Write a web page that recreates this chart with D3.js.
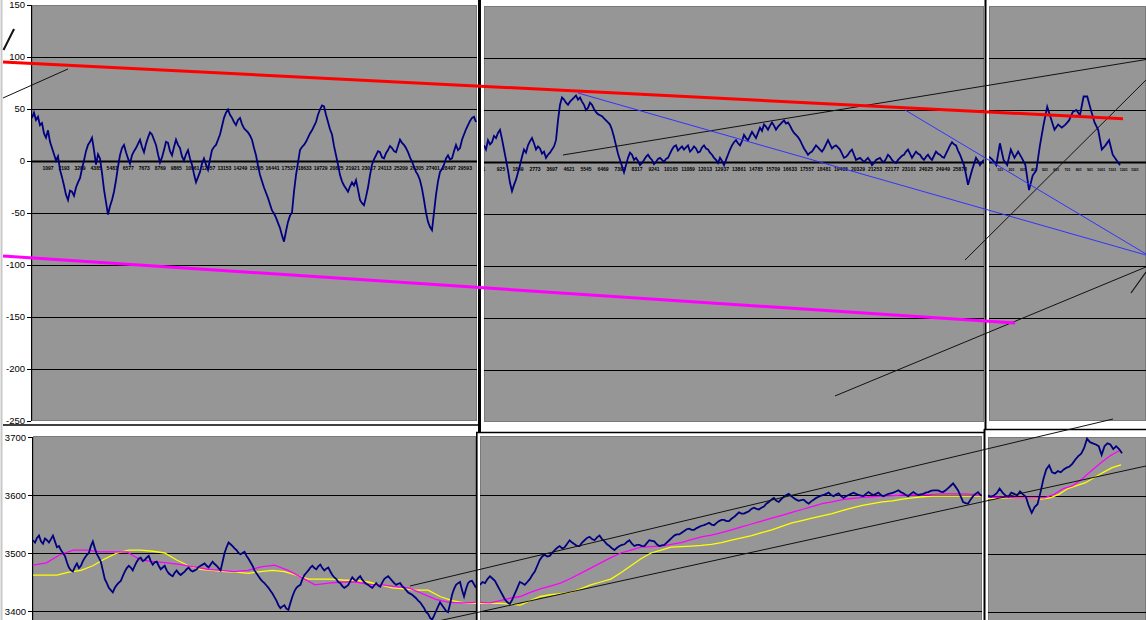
<!DOCTYPE html>
<html><head><meta charset="utf-8">
<script src="https://cdn.jsdelivr.net/npm/d3@7"></script>
<style>body{margin:0;background:#fff;}svg{display:block;}</style>
</head><body>
<svg id="c" width="1146" height="620"></svg>
<script>
// ---------------- DATA ----------------
const yTicksTop = [150, 100, 50, 0, -50, -100, -150, -200, -250];
const yTicksBottom = [3700, 3600, 3500, 3400];

const xLabelsLeft = ["1097","2193","3289","4385","5481","6577","7673","8769","9865","10961","12057","13153","14249","15345","16441","17537","18633","19729","20825","21921","23017","24113","25209","26305","27401","28497","29593"];
const xLabelsMid = ["1","925","1849","2773","3697","4621","5545","6469","7393","8317","9241","10165","11089","12013","12937","13861","14785","15709","16633","17557","18481","19405","20329","21253","22177","23101","24025","24949","25873"];
const xLabelsRight = ["1","101","201","301","401","501","601","701","801","901","1001","1101","1201","1301"];

// oscillator (top charts)
const oscLeft = [41,46,39,42,34,36,26,22,29,18,12,6,0,4,-9,-16,-24,-33,-38,-29,-30,-34,-26,-21,-17,-8,0,9,15,18,22,10,-4,6,2,-12,-28,-40,-52,-44,-38,-30,-19,-6,5,12,15,8,2,-3,5,9,12,16,20,13,8,16,22,27,25,20,15,6,-2,3,10,18,17,9,5,13,20,15,12,4,0,6,10,2,-4,-13,-21,-16,-11,-3,2,-4,-9,1,10,13,15,20,25,33,41,46,49,44,41,37,34,39,41,35,31,29,27,24,20,12,5,-5,-14,-20,-26,-31,-36,-42,-48,-51,-55,-60,-65,-72,-78,-68,-59,-53,-50,-30,-14,-2,10,13,15,18,22,26,29,33,37,44,49,53,52,44,37,30,25,14,5,-4,-14,-20,-24,-27,-30,-25,-21,-24,-19,-28,-38,-41,-43,-35,-26,-14,-4,1,5,9,8,3,2,7,10,14,12,9,8,14,20,17,15,12,8,3,-1,-6,-11,-14,-19,-27,-38,-50,-59,-64,-67,-50,-33,-20,-11,-8,-4,2,5,1,2,9,15,10,12,20,25,30,34,38,41,42,37];
const oscMid = [16,12,21,17,19,25,23,28,31,22,12,2,-8,-20,-28,-22,-17,-10,-3,5,12,9,16,20,23,18,12,15,13,8,10,4,7,9,12,15,21,40,55,62,60,57,55,58,60,62,64,60,62,58,55,50,52,57,55,51,48,46,45,44,42,40,38,36,31,24,16,8,2,-4,-10,-3,4,9,7,2,4,1,-3,-1,2,5,7,4,2,-2,0,3,4,2,0,3,4,8,12,15,16,11,13,15,12,14,16,10,12,15,13,9,10,14,16,13,12,9,7,4,2,-1,4,1,-3,2,7,12,16,19,21,18,16,20,26,23,21,25,29,26,23,28,33,30,36,34,31,35,38,35,31,34,36,38,40,37,38,35,31,28,26,24,21,17,13,10,7,9,10,13,16,14,12,10,13,17,21,17,13,15,16,14,12,8,4,5,7,10,12,7,2,3,4,2,0,2,4,1,-3,-1,2,3,4,1,0,3,7,5,2,0,-1,2,4,6,7,10,12,8,4,7,10,8,7,4,2,5,7,4,2,6,10,8,7,5,4,8,12,16,19,17,16,11,7,2,-3,-12,-22,-15,-8,-2,4,1,-3,0,2];
const oscRight = [5,2,-3,18,2,-3,12,4,10,4,-3,-27,-13,-8,16,36,53,42,31,36,33,36,40,48,50,45,63,63,50,38,31,12,16,21,7,2,-3];

// price (bottom charts)
const priceLeft = [3522,3518,3526,3530,3520,3516,3525,3522,3518,3524,3530,3520,3510,3512,3505,3500,3495,3484,3475,3470,3468,3476,3482,3474,3478,3486,3492,3497,3500,3512,3520,3508,3498,3492,3485,3470,3455,3448,3440,3436,3432,3440,3445,3449,3452,3460,3468,3474,3478,3475,3470,3478,3485,3490,3492,3486,3488,3492,3495,3486,3480,3484,3485,3478,3472,3475,3478,3470,3465,3462,3460,3466,3470,3465,3462,3465,3468,3472,3475,3470,3468,3470,3472,3476,3478,3480,3482,3478,3475,3480,3485,3481,3478,3474,3470,3485,3500,3510,3518,3515,3512,3508,3505,3500,3498,3500,3502,3495,3490,3484,3478,3470,3465,3460,3455,3451,3448,3444,3440,3435,3430,3424,3418,3410,3405,3408,3410,3404,3402,3414,3425,3434,3440,3443,3445,3455,3462,3466,3470,3475,3478,3474,3472,3477,3480,3474,3470,3473,3475,3468,3462,3458,3455,3450,3448,3443,3440,3442,3445,3452,3458,3454,3452,3457,3460,3454,3450,3447,3445,3442,3440,3444,3448,3444,3442,3449,3455,3458,3460,3456,3452,3448,3445,3447,3448,3443,3440,3436,3432,3430,3428,3425,3422,3418,3415,3410,3405,3398,3395,3388,3385,3392,3400,3408,3415,3410,3405,3400,3398,3412,3428,3438,3445,3448,3450,3436,3425,3438,3448,3451,3452,3446,3440];
const maFastLeft = [3479,3483,3497,3505,3505,3502,3502,3502,3488,3485,3483,3480,3476,3472,3470,3468,3470,3476,3479,3470,3458,3445,3448,3450,3450,3446,3445,3442,3440,3430,3420,3415,3414,3415];
const maSlowLeft = [3462,3462,3462,3467,3470,3478,3490,3500,3505,3505,3503,3500,3488,3478,3472,3470,3468,3467,3465,3468,3470,3468,3462,3455,3455,3455,3453,3453,3450,3445,3440,3438,3436,3436,3425,3418,3414,3413];

const priceMid = [3445,3450,3448,3455,3460,3456,3452,3444,3436,3428,3420,3415,3412,3420,3430,3440,3450,3448,3445,3450,3455,3462,3468,3478,3488,3494,3497,3494,3495,3500,3505,3509,3512,3508,3510,3516,3522,3518,3515,3512,3512,3518,3522,3526,3528,3524,3522,3527,3530,3524,3520,3515,3512,3508,3505,3509,3512,3514,3515,3519,3522,3516,3512,3514,3514,3512,3512,3517,3522,3521,3520,3515,3512,3513,3514,3518,3522,3526,3530,3532,3532,3535,3538,3541,3542,3540,3540,3543,3545,3547,3548,3550,3552,3549,3548,3552,3555,3557,3557,3555,3555,3559,3562,3566,3570,3568,3568,3570,3572,3576,3578,3576,3575,3578,3580,3585,3588,3592,3595,3590,3588,3593,3597,3600,3602,3598,3595,3592,3590,3591,3592,3588,3585,3589,3592,3595,3597,3599,3600,3602,3604,3600,3598,3601,3603,3598,3595,3598,3600,3602,3604,3602,3600,3599,3598,3602,3605,3602,3600,3602,3604,3600,3598,3600,3602,3603,3604,3606,3608,3605,3603,3600,3598,3602,3605,3602,3600,3601,3602,3604,3605,3607,3608,3608,3608,3606,3605,3608,3612,3616,3620,3614,3608,3598,3588,3586,3585,3592,3598,3602,3605,3600,3598];
const maFastMid = [3415,3414,3418,3422,3425,3432,3438,3443,3448,3456,3465,3474,3483,3492,3500,3505,3510,3511,3512,3515,3518,3523,3528,3531,3535,3540,3545,3550,3555,3560,3565,3570,3575,3580,3585,3588,3592,3594,3596,3597,3598,3599,3600,3600,3600,3601,3602,3602,3602,3601,3600];
const maSlowMid = [3413,3413,3413,3412,3410,3418,3425,3428,3430,3432,3438,3445,3450,3455,3466,3478,3490,3500,3505,3510,3511,3512,3513,3515,3518,3522,3526,3530,3535,3540,3546,3552,3556,3560,3564,3568,3573,3578,3582,3585,3588,3590,3593,3595,3597,3598,3598,3598,3598,3598,3598];

const priceRight = [3600,3598,3600,3604,3612,3605,3600,3598,3605,3603,3600,3607,3602,3598,3582,3570,3580,3585,3605,3628,3645,3652,3640,3638,3642,3640,3645,3648,3650,3655,3662,3668,3672,3682,3698,3692,3690,3688,3685,3670,3685,3690,3688,3680,3685,3680,3673];
const maFastRight = [3597,3597,3597,3596,3596,3596,3596,3602,3612,3617,3629,3643,3657,3669,3678];
const maSlowRight = [3595,3595,3596,3596,3596,3596,3594,3596,3602,3612,3617,3622,3631,3640,3648,3653];

// hand-drawn trend lines: [x in left-panel widths from its left edge, value]
const trendRed = [[-0.0653, 94.7], [2.4572, 40.2]];
const trendMagenta = [[-0.0653, -91.8], [2.2140, -156.3]];
const trendBlackTL = [[-0.0653, 60.1], [0.0811, 88.0]];
const strokeTL = [[-0.0642, 106.2], [-0.0405, 126.4]];
const trendBlackMid = [[1.1959, 5.3], [2.5090, 97.1]];
const trendBlueA = [[1.2297, 64.9], [2.5090, -90.9]];
const trendBlueB = [[1.9662, 48.6], [2.5090, -89.9]];
const trendBlackDiag = [[2.1014, -95.7], [2.5090, 77.4]];
const trendBlackLow = [[1.8086, -226.4], [2.5090, -102.4]];
const strokeRight = [[2.4752, -127.4], [2.5090, -107.2]];
const channelUpper = [[0.8510, 3443.1], [2.4379, 3731.0]];
const channelLower = [[0.8736, 3375.9], [2.5124, 3650.0]];

// ---------------- DRAW ----------------
const svg = d3.select("#c");
svg.append("rect").attr("width",1146).attr("height",620).attr("fill","#fff");
svg.append("line").attr("x1",1.5).attr("x2",1.5).attr("y1",0).attr("y2",620).attr("stroke","#c8c8c8").attr("stroke-width",2);

const GRAY = "#969696", BORDER = "#7a7a7a", NAVY = "#000080";
const FONT = "Liberation Sans, Arial, sans-serif";
let clipN = 0;

function drawPanel(p) {
  const g = svg.append("g");
  const id = "clip" + (clipN++);
  g.append("clipPath").attr("id", id).append("rect")
    .attr("x", p.x0).attr("y", p.y0).attr("width", p.x1 - p.x0).attr("height", p.y1 - p.y0);
  g.append("rect").attr("x", p.x0 + 0.5).attr("y", p.y0 + 0.5)
    .attr("width", p.x1 - p.x0 - 1).attr("height", p.y1 - p.y0 - 1)
    .attr("fill", GRAY).attr("stroke", BORDER).attr("stroke-width", 1);
  const y = d3.scaleLinear().domain(p.yDomain).range(p.yRange);
  const inner = g.append("g").attr("clip-path", `url(#${id})`);
  inner.selectAll("line.grid").data(p.grid).join("line")
    .attr("x1", p.x0).attr("x2", p.x1)
    .attr("y1", d => Math.round(y(d)) + 0.5).attr("y2", d => Math.round(y(d)) + 0.5)
    .attr("stroke", "#000").attr("stroke-width", 1);
  if (p.zero) {
    inner.append("line").attr("x1", p.x0).attr("x2", p.x1)
      .attr("y1", Math.round(y(0)) + 0.5).attr("y2", Math.round(y(0)) + 0.5)
      .attr("stroke", "#000").attr("stroke-width", 2);
    const xc = d3.scaleLinear().domain(p.catDomain).range([p.x0, p.x1]);
    inner.selectAll("text.cat").data(p.labels).join("text")
      .attr("x", (d) => xc(+d)).attr("y", Math.round(y(0)) + 9)
      .attr("text-anchor", "middle").attr("font-family", FONT)
      .attr("font-size", p.labelSize).attr("font-weight", "bold").attr("fill", "#000").text(d => d);
  }
  p.series.forEach(s => {
    const x = d3.scaleLinear().domain([0, s.data.length - 1]).range(s.xr);
    inner.append("path").datum(s.data)
      .attr("d", d3.line().x((d, i) => x(i)).y(d => y(d)))
      .attr("fill", "none").attr("stroke", s.color).attr("stroke-width", s.w)
      .attr("stroke-linejoin", "miter");
  });
  return y;
}

const gridTop = [100, 50, -50, -100, -150, -200];
const gridBot = [3600, 3500, 3400];

const yTL = drawPanel({x0:32, x1:477, y0:5, y1:421, yDomain:[-250,150], yRange:[420.5,4.5], grid:gridTop, zero:true,
  catDomain:[1,30415], labels:xLabelsLeft, labelSize:5,
  series:[{data:oscLeft, xr:[32,476], color:NAVY, w:1.8}]});
drawPanel({x0:484, x1:984, y0:6, y1:422, yDomain:[-250,150], yRange:[422,6], grid:gridTop, zero:true,
  catDomain:[1,27177], labels:xLabelsMid, labelSize:5,
  series:[{data:oscMid, xr:[484,984], color:NAVY, w:1.8}]});
drawPanel({x0:989, x1:1146, y0:6, y1:421, yDomain:[-250,150], yRange:[422,6], grid:gridTop, zero:true,
  catDomain:[1,1400], labels:xLabelsRight, labelSize:3.6,
  series:[{data:oscRight, xr:[989,1120], color:NAVY, w:1.8}]});

const yBL = drawPanel({x0:33, x1:476, y0:436, y1:622, yDomain:[3400,3700], yRange:[611,437], grid:gridBot, zero:false,
  series:[{data:maSlowLeft, xr:[33,476], color:"#ffff00", w:1.3},{data:maFastLeft, xr:[33,476], color:"#ff00ff", w:1.3},{data:priceLeft, xr:[33,476], color:NAVY, w:1.8}]});
drawPanel({x0:480, x1:982, y0:436, y1:622, yDomain:[3400,3700], yRange:[611,437], grid:gridBot, zero:false,
  series:[{data:maSlowMid, xr:[480,983], color:"#ffff00", w:1.3},{data:maFastMid, xr:[480,983], color:"#ff00ff", w:1.3},{data:priceMid, xr:[480,983], color:NAVY, w:1.8}]});
drawPanel({x0:988, x1:1146, y0:437, y1:622, yDomain:[3400,3700], yRange:[611.5,437.5], grid:gridBot, zero:false,
  series:[{data:maSlowRight, xr:[988,1121], color:"#ffff00", w:1.3},{data:maFastRight, xr:[988,1120], color:"#ff00ff", w:1.3},{data:priceRight, xr:[988,1122], color:NAVY, w:1.8}]});

// left axes
function leftAxis(scale, x, y0, y1, ticks) {
  const g = svg.append("g");
  g.append("line").attr("x1", x + 0.5).attr("x2", x + 0.5).attr("y1", y0).attr("y2", y1).attr("stroke", "#000");
  g.selectAll("line.t").data(ticks).join("line")
    .attr("x1", x - 4).attr("x2", x).attr("y1", d => Math.round(scale(d)) + 0.5).attr("y2", d => Math.round(scale(d)) + 0.5)
    .attr("stroke", "#000");
  g.selectAll("text").data(ticks).join("text")
    .attr("x", x - 6).attr("y", d => scale(d) + 3.5).attr("text-anchor", "end")
    .attr("font-family", FONT).attr("font-size", 9.5).attr("fill", "#000").text(d => d);
}
leftAxis(yTL, 31, 5, 421, yTicksTop);
leftAxis(yBL, 32, 437, 620, yTicksBottom);

// separators between the pasted screenshots
const sep = svg.append("g").attr("stroke", "#000").attr("fill", "none");
sep.append("line").attr("x1", 479.5).attr("x2", 479.5).attr("y1", 0).attr("y2", 432).attr("stroke-width", 3);
sep.append("line").attr("x1", 3).attr("x2", 478).attr("y1", 425).attr("y2", 425).attr("stroke-width", 1.5);
sep.append("line").attr("x1", 476).attr("x2", 985).attr("y1", 432.5).attr("y2", 432.5).attr("stroke-width", 1.5);
sep.append("line").attr("x1", 476.8).attr("x2", 476.8).attr("y1", 432).attr("y2", 620).attr("stroke-width", 1.6);
sep.append("line").attr("x1", 985.5).attr("x2", 985.5).attr("y1", 0).attr("y2", 430).attr("stroke-width", 2);
sep.append("line").attr("x1", 984.5).attr("x2", 984.5).attr("y1", 429).attr("y2", 620).attr("stroke-width", 2);
sep.append("line").attr("x1", 984).attr("x2", 1146).attr("y1", 429.5).attr("y2", 429.5).attr("stroke-width", 1.5);

// trend lines
const xT = d3.scaleLinear().domain([0, 1]).range([32, 476]);
const xB = d3.scaleLinear().domain([0, 1]).range([33, 476]);
const ann = svg.append("g").attr("fill", "none").attr("stroke-linecap", "butt");
function seg(pts, xs, ys, color, w) {
  ann.append("path").datum(pts).attr("d", d3.line().x(d => xs(d[0])).y(d => ys(d[1])))
    .attr("stroke", color).attr("stroke-width", w);
}
seg(trendBlackTL, xT, yTL, "#111", 1);
seg(strokeTL, xT, yTL, "#111", 2);
seg(trendBlackMid, xT, yTL, "#111", 1);
seg(trendBlackDiag, xT, yTL, "#111", 1);
seg(trendBlackLow, xT, yTL, "#111", 1);
seg(strokeRight, xT, yTL, "#111", 1.2);
seg(trendBlueA, xT, yTL, "#3333ff", 1);
seg(trendBlueB, xT, yTL, "#3333ff", 1);
seg(trendRed, xT, yTL, "#ff0000", 3);
seg(trendMagenta, xT, yTL, "#ff00ff", 3);
seg(channelUpper, xB, yBL, "#111", 1);
seg(channelLower, xB, yBL, "#111", 1);
</script>
</body></html>
